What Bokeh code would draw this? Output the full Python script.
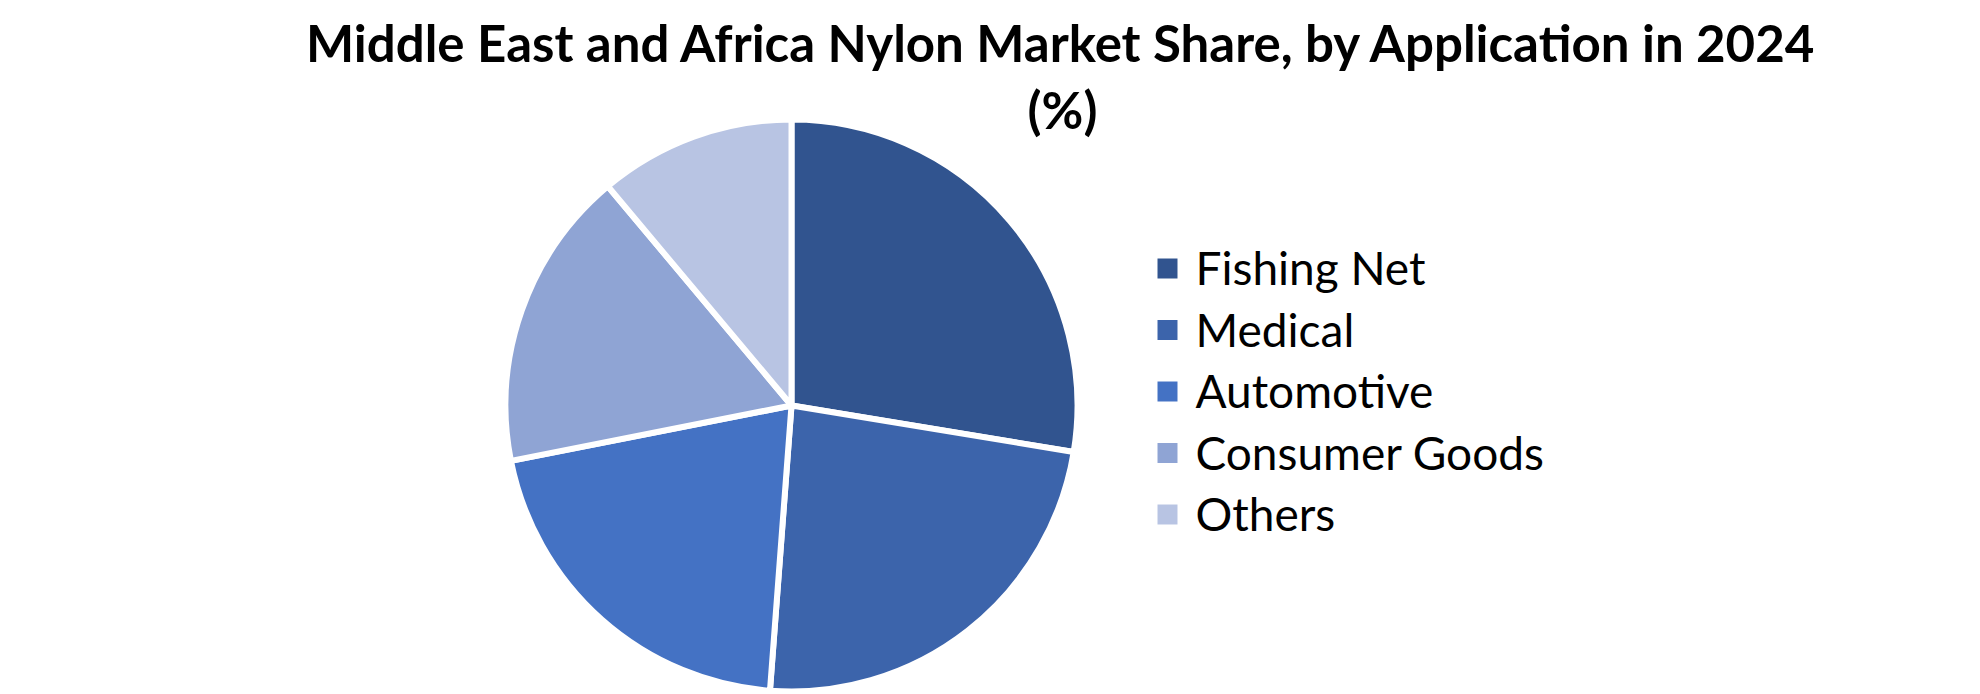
import numpy as np
from bokeh.plotting import figure
from bokeh.models import ColumnDataSource, Range1d
from bokeh.core.properties import value
from bokeh.embed import file_html
from bokeh.resources import INLINE

# data (share in %)
categories = ["Fishing Net", "Medical", "Automotive", "Consumer Goods", "Others"]
shares = [27.6, 23.6, 20.7, 17.0, 11.1]
colors = ["#31548F", "#3C64AB", "#4472C4", "#8FA4D4", "#B8C4E3"]
title_lines = ["Middle East and Africa Nylon Market Share, by Application in 2024", "(%)"]

W, H = 1980, 694
FONT = "Lato"

p = figure(width=W, height=H, output_backend="svg", toolbar_location=None,
           x_range=Range1d(0, W), y_range=Range1d(0, H), min_border=0)
p.axis.visible = False
p.grid.visible = False
p.outline_line_color = None
p.background_fill_color = "white"

# pie, clockwise from 12 o'clock
frac = np.array(shares) / sum(shares)
ends = np.cumsum(frac) * 2 * np.pi
starts = ends - frac * 2 * np.pi
pie = ColumnDataSource(dict(
    cat=categories, color=colors,
    start=np.pi / 2 - starts, end=np.pi / 2 - ends,
))
p.wedge(x=791, y=289, radius=286, start_angle="start", end_angle="end",
        direction="clock", fill_color="color", line_color="white", line_width=6,
        source=pie)

# title
p.text(x=[1062, 1062], y=[652, 585], text=title_lines, text_align="center",
       text_baseline="alphabetic", text_font=value(FONT), text_font_style="bold",
       text_font_size="51px", text_color="black")

# legend
ly = [426 - i * 61.5 for i in range(len(categories))]
leg = ColumnDataSource(dict(cat=categories, color=colors, y=ly,
                            yb=[v + 1 for v in ly]))
p.rect(x=1167, y="y", width=20, height=20, fill_color="color", line_color=None,
       source=leg)
p.text(x=1195, y="yb", text="cat", text_align="left", text_baseline="alphabetic",
       text_font=value(FONT), text_font_size="46px", text_color="black", source=leg)

open("out.html", "w").write(file_html(p, INLINE))
